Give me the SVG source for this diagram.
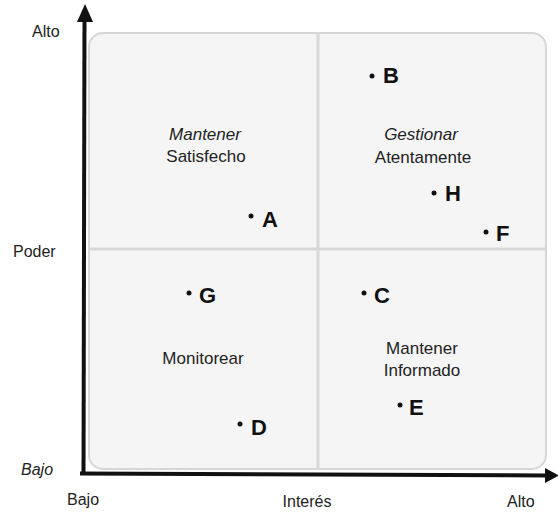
<svg xmlns="http://www.w3.org/2000/svg" width="558" height="515" viewBox="0 0 558 515">
<defs>
<style>
.ax{font-family:"Liberation Sans",Arial,sans-serif;font-size:16px;fill:#222}
.q{font-family:"Liberation Sans",Arial,sans-serif;font-size:17px;fill:#222;text-anchor:middle}
.it{font-style:italic}
.pt{font-family:"Liberation Sans",Arial,sans-serif;font-size:22px;font-weight:bold;fill:#111}
.dot{fill:#111}
.div{stroke:#d8d8d8;stroke-width:3;fill:none}
</style>
</defs>
<rect width="558" height="515" fill="#ffffff"/>
<g id="panel">
<rect x="89" y="33" width="457" height="436" rx="14" ry="14" fill="#f5f5f5" stroke="#d6d6d6" stroke-width="2"/>
<line class="div" x1="318" y1="34" x2="318" y2="468"/>
<line class="div" x1="90" y1="249" x2="545" y2="249"/>
</g>
<g id="axes">
<line x1="83.5" y1="475" x2="84.5" y2="18" stroke="#111" stroke-width="4"/>
<polygon points="85,4 77,22 93,22" fill="#111"/>
<line x1="80" y1="473.5" x2="548" y2="475.5" stroke="#111" stroke-width="4"/>
<polygon points="559,475.5 545,468 545,483" fill="#111"/>
</g>
<g id="axis-labels">
<text class="ax" x="32" y="37">Alto</text>
<text class="ax" x="13" y="257">Poder</text>
<text class="ax it" x="21" y="475">Bajo</text>
<text class="ax" x="67" y="505">Bajo</text>
<text class="ax" x="307" y="507" text-anchor="middle">Interés</text>
<text class="ax" x="507" y="507">Alto</text>
</g>
<g id="q-satisfecho">
<text class="q it" x="205" y="140">Mantener</text>
<text class="q" x="206" y="162">Satisfecho</text>
</g>
<g id="q-gestionar">
<text class="q it" x="421" y="140">Gestionar</text>
<text class="q" x="423" y="163">Atentamente</text>
</g>
<g id="q-monitorear">
<text class="q" x="203" y="364">Monitorear</text>
</g>
<g id="q-informado">
<text class="q" x="422" y="354">Mantener</text>
<text class="q" x="422" y="376">Informado</text>
</g>
<g id="A"><circle class="dot" cx="251" cy="216" r="2.5"/><text class="pt" x="262" y="227">A</text></g>
<g id="B"><circle class="dot" cx="372" cy="76" r="2.5"/><text class="pt" x="383" y="83">B</text></g>
<g id="H"><circle class="dot" cx="434" cy="193" r="2.5"/><text class="pt" x="445" y="201">H</text></g>
<g id="F"><circle class="dot" cx="486" cy="232" r="2.5"/><text class="pt" x="496" y="241">F</text></g>
<g id="G"><circle class="dot" cx="189" cy="293" r="2.5"/><text class="pt" x="199" y="303">G</text></g>
<g id="C"><circle class="dot" cx="364" cy="293" r="2.5"/><text class="pt" x="374" y="303">C</text></g>
<g id="E"><circle class="dot" cx="400" cy="405" r="2.5"/><text class="pt" x="409" y="415">E</text></g>
<g id="D"><circle class="dot" cx="240" cy="424" r="2.5"/><text class="pt" x="251" y="435">D</text></g>
</svg>
